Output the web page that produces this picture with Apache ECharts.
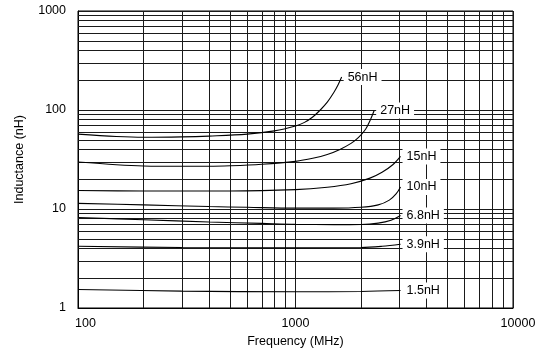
<!DOCTYPE html>
<html><head><meta charset="utf-8">
<script src="https://cdn.jsdelivr.net/npm/echarts@6/dist/echarts.min.js"></script>
<style>html,body{margin:0;padding:0;background:#fff}#c{width:541px;height:361px}</style>
</head><body><div id="c"></div>
<script>
// Series data (frequency MHz, inductance nH)
const freq56 = [100, 150, 200, 300, 400, 600, 800, 1000, 1100, 1200, 1300, 1400, 1500, 1570, 1630];
const ind56  = [57, 54, 53, 53.5, 54.5, 57, 61.5, 69, 75, 85, 100, 120, 150, 180, 215];
const freq27 = [100, 150, 200, 300, 400, 500, 700, 1000, 1200, 1400, 1600, 1800, 1950, 2100, 2200, 2300];
const ind27  = [29.8, 28, 27.2, 27, 27, 27.3, 28.3, 30.3, 32.5, 35.5, 40, 46, 53, 64, 78, 99];
const freq15 = [100, 200, 500, 1000, 1400, 1800, 2200, 2500, 2800, 3040];
const ind15  = [15.4, 15.2, 15.2, 15.7, 16.6, 18, 20.5, 23.5, 28, 34];
const freq10 = [100, 200, 400, 600, 1000, 1500, 2000, 2400, 2700, 2900, 3040];
const ind10  = [11.4, 11, 10.6, 10.4, 10.2, 10.2, 10.4, 11, 12.3, 14.2, 16.7];
const freq6p8 = [100, 200, 400, 700, 1000, 1500, 2000, 2400, 2750, 3040];
const ind6p8  = [8.2, 7.8, 7.4, 7.15, 7.0, 6.95, 6.98, 7.2, 7.7, 8.6];
const freq3p9 = [100, 300, 1000, 2000, 2500, 3040];
const ind3p9  = [4.2, 4.08, 4.05, 4.08, 4.2, 4.4];
const freq1p5 = [100, 300, 1000, 2000, 3040];
const ind1p5  = [1.54, 1.48, 1.46, 1.47, 1.5];
const seriesNames = ['56nH', '27nH', '15nH', '10nH', '6.8nH', '3.9nH', '1.5nH'];

// Minor grid values
const xMinor = [200, 300, 400, 500, 600, 700, 800, 900, 2000, 3000, 4000, 5000, 6000, 7000, 8000, 9000];
const yMinor = [2, 3, 4, 5, 6, 7, 8, 9, 20, 30, 40, 50, 60, 70, 80, 90, 200, 300, 400, 500, 600, 700, 800, 900];
const xTickLabels = ['100', '1000', '10000'];
const yTickLabels = ['1', '10', '100', '1000'];

const pairs = [[freq56, ind56], [freq27, ind27], [freq15, ind15], [freq10, ind10],
               [freq6p8, ind6p8], [freq3p9, ind3p9], [freq1p5, ind1p5]];

const FONT = 'Liberation Sans, Arial, sans-serif';
const gridColor = '#1a1a1a';

const lineSeries = pairs.map((p, i) => ({
  name: seriesNames[i],
  type: 'line',
  z: 5,
  data: p[0].map((f, k) => [f, p[1][k]]),
  smooth: 0.35,
  symbol: 'none',
  lineStyle: { color: '#000', width: 1.1 },
  endLabel: {
    show: true, formatter: '{a}', distance: 2,
    color: '#000', fontFamily: FONT, fontSize: 12.5,
    backgroundColor: '#fff', padding: [2, 4, 1, 4]
  }
}));

const gridSeries = {
  type: 'line', data: [], z: 1, silent: true,
  markLine: {
    silent: true, symbol: 'none', animation: false,
    label: { show: false },
    lineStyle: { color: gridColor, width: 1, type: 'solid' },
    data: xMinor.map(v => ({ xAxis: v })).concat(yMinor.map(v => ({ yAxis: v })))
  }
};

const chart = echarts.init(document.getElementById('c'), null, { renderer: 'canvas' });
chart.setOption({
  animation: false,
  backgroundColor: '#fff',
  grid: { left: 78, right: 28, top: 11, bottom: 53, show: true, borderColor: '#000', borderWidth: 1, backgroundColor: 'transparent' },
  xAxis: {
    type: 'log', logBase: 10, min: 100, max: 10000,
    name: 'Frequency (MHz)', nameLocation: 'middle', nameGap: 27,
    nameTextStyle: { color: '#000', fontFamily: FONT, fontSize: 12.5 },
    axisLine: { show: true, lineStyle: { color: '#000' } },
    axisTick: { show: false },
    splitLine: { show: true, lineStyle: { color: gridColor, width: 1 } },
    axisLabel: {
      color: '#000', fontFamily: FONT, fontSize: 12.5, margin: 9,
      formatter: v => {
        const s = xTickLabels.find(t => Math.abs(Number(t) - v) < 1e-6 * Number(t)) || String(Math.round(v));
        if (s === '100') return '{a|' + s + '}';
        if (s === '10000') return '{b|' + s + '}';
        return s;
      },
      rich: {
        a: { padding: [0, 0, 0, 15], fontFamily: FONT, fontSize: 12.5, color: '#000' },
        b: { padding: [0, 0, 0, 10], fontFamily: FONT, fontSize: 12.5, color: '#000' }
      }
    }
  },
  yAxis: {
    type: 'log', logBase: 10, min: 1, max: 1000,
    name: 'Inductance (nH)', nameLocation: 'middle', nameGap: 52,
    nameTextStyle: { color: '#000', fontFamily: FONT, fontSize: 12.5 },
    axisLine: { show: true, lineStyle: { color: '#000' } },
    axisTick: { show: false },
    splitLine: { show: true, lineStyle: { color: gridColor, width: 1 } },
    axisLabel: {
      color: '#000', fontFamily: FONT, fontSize: 12.5, margin: 12,
      padding: [5, 0, 0, 0],
      formatter: v => yTickLabels.find(t => Math.abs(Number(t) - v) < 1e-6 * Number(t)) || String(Math.round(v))
    }
  },
  series: [gridSeries].concat(lineSeries)
});
</script>
</body></html>
